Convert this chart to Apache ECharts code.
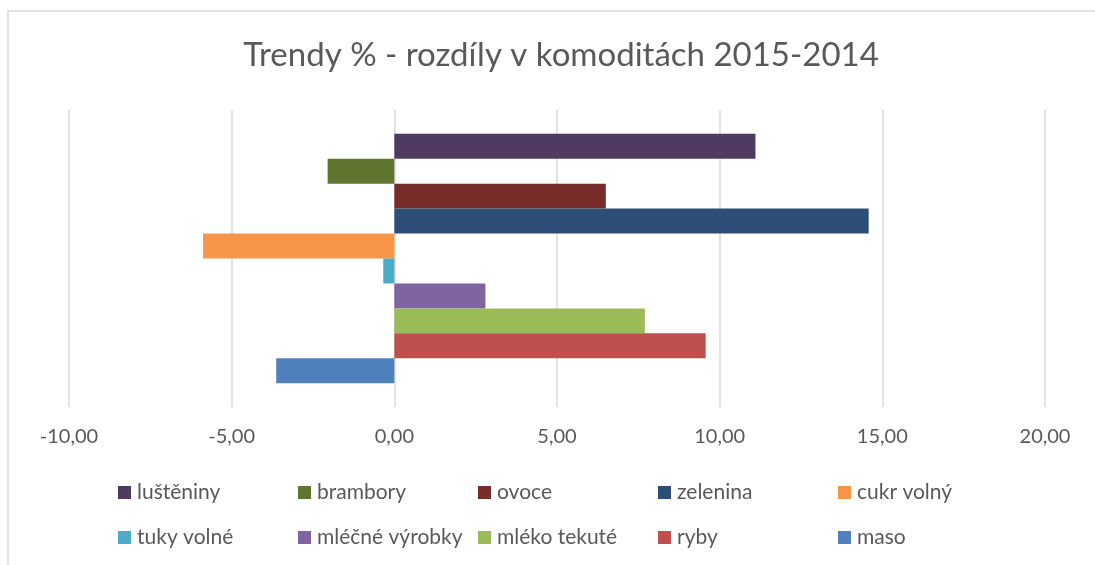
<!DOCTYPE html>
<html>
<head>
<meta charset="utf-8">
<script src="https://cdn.jsdelivr.net/npm/echarts@6/dist/echarts.min.js"></script>
<style>
  html, body { margin: 0; padding: 0; background: #fff; }
  #main { width: 1095px; height: 565px; }
</style>
</head>
<body>
<div id="main"></div>
<script>
// data
var names = ['luštěniny', 'brambory', 'ovoce', 'zelenina', 'cukr volný',
  'tuky volné', 'mléčné výrobky', 'mléko tekuté', 'ryby', 'maso'];
var values = [11.1, -2.05, 6.5, 14.58, -5.88, -0.34, 2.8, 7.7, 9.57, -3.63];
var colors = ['#4f3b62', '#607530', '#772c2a', '#2c4d75', '#f79646',
  '#4bacc6', '#8064a2', '#9bbb59', '#c0504d', '#4f81bd'];
var xTicks = { min: -10, max: 20, step: 5 };

var fontFam = 'Lato, "Open Sans", sans-serif';
var textCol = '#595959';

var chartDom = document.getElementById('main');
var myChart = echarts.init(chartDom);

var series = names.map(function (n, i) {
  return {
    name: n,
    type: 'bar',
    data: [values[i]],
    itemStyle: { color: colors[i] },
    barGap: '0%',
    barCategoryGap: '16%',
    animation: false
  };
});

// one legend per item so that the columns line up like the original
var legends = names.map(function (n, i) {
  return {
    data: [n],
    left: 113 + 180 * (i % 5),
    top: i < 5 ? 477 : 522,
    icon: 'rect',
    itemWidth: 13,
    itemHeight: 13,
    itemGap: 0,
    selectedMode: false,
    textStyle: {
      fontFamily: fontFam,
      fontSize: 21,
      color: textCol,
      padding: [0, 0, 0, 1]
    }
  };
});

var option = {
  backgroundColor: '#fff',
  title: {
    text: 'Trendy % - rozdíly v komoditách 2015-2014',
    left: 556,
    top: 34,
    textAlign: 'center',
    textStyle: {
      fontFamily: fontFam,
      fontSize: 33,
      fontWeight: 'normal',
      color: textCol
    }
  },
  legend: legends,
  grid: { left: 69, right: 50, top: 110, bottom: 158 },
  xAxis: {
    type: 'value',
    min: xTicks.min,
    max: xTicks.max,
    interval: xTicks.step,
    axisLine: { show: false },
    axisTick: { show: false },
    splitLine: { lineStyle: { color: '#d9d9d9', width: 1.5 } },
    axisLabel: {
      margin: 20,
      fontFamily: fontFam,
      fontSize: 20,
      color: textCol,
      formatter: function (v) { return v.toFixed(2).replace('.', ','); }
    }
  },
  yAxis: {
    type: 'category',
    data: [''],
    axisLine: { show: false },
    axisTick: { show: false },
    axisLabel: { show: false }
  },
  graphic: [{
    type: 'rect',
    shape: { x: 8, y: 11, width: 1200, height: 700 },
    style: { fill: null, stroke: '#d9d9d9', lineWidth: 1.5 },
    silent: true
  }],
  series: series
};

myChart.setOption(option);
window.addEventListener('resize', function () { myChart.resize(); });
</script>
</body>
</html>
